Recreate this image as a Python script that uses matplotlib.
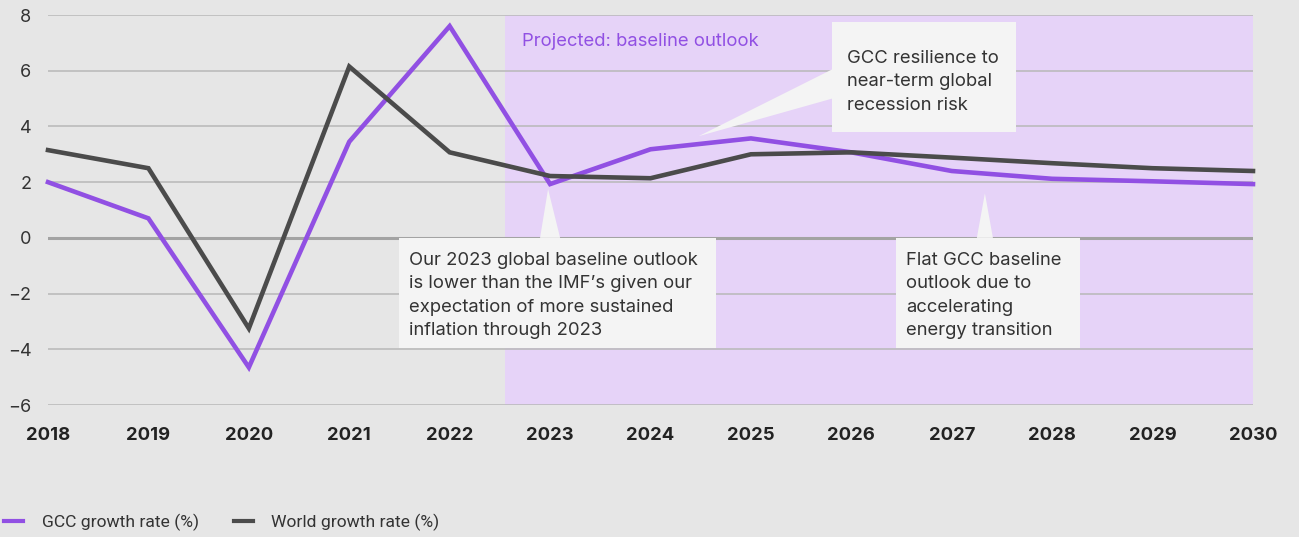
import matplotlib
matplotlib.use("Agg")
import matplotlib.pyplot as plt
from matplotlib.patches import Polygon, Rectangle
from matplotlib.lines import Line2D

years = [2018, 2019, 2020, 2021, 2022, 2023, 2024, 2025, 2026, 2027, 2028, 2029, 2030]
gcc_growth = [2.0, 0.7, -4.65, 3.45, 7.6, 1.93, 3.18, 3.57, 3.07, 2.4, 2.12, 2.03, 1.93]
world_growth = [3.15, 2.5, -3.25, 6.15, 3.07, 2.22, 2.14, 3.0, 3.07, 2.88, 2.68, 2.5, 2.4]
y_ticks = [-6, -4, -2, 0, 2, 4, 6, 8]
projection_start = 2022.55

PURPLE = "#9150e3"
DARK = "#4b4b4b"
BG = "#e6e6e6"
SHADE = "#e6d3f8"
BOX = "#f4f4f4"
TEXT = "#333333"

plt.rcParams["font.family"] = ["Inter", "DejaVu Sans"]

fig = plt.figure(figsize=(12.99, 5.37), dpi=100, facecolor=BG)
ax = fig.add_axes([48 / 1299, 1 - 405 / 537, 1205 / 1299, 390 / 537])
ax.set_facecolor(BG)
ax.set_xlim(2018, 2030)
ax.set_ylim(-6, 8)

ax.axvspan(projection_start, 2030, color=SHADE, zorder=0, lw=0)
for t in y_ticks:
    if t == 0:
        ax.axhline(t, color="#a3a3a3", lw=2.2, zorder=1)
    else:
        ax.axhline(t, color="#b8b8b8", lw=1.1, zorder=1)

for s in ax.spines.values():
    s.set_visible(False)
ax.set_yticks(y_ticks)
ax.set_yticklabels([str(t).replace("-", "\u2212") for t in y_ticks], fontsize=13, color=TEXT)
ax.set_xticks(years)
ax.set_xticklabels([str(y) for y in years], fontsize=13.3, fontweight="bold", color="#222222")
ax.tick_params(axis="both", length=0)
ax.tick_params(axis="y", pad=12)
ax.tick_params(axis="x", pad=15.5)

ax.text(2022.72, 7.05, "Projected: baseline outlook", color=PURPLE, fontsize=13.3, va="center", zorder=5)

# annotation boxes with pointers
def callout(x0, x1, y0, y1, pointer, tx, ty, lines):
    ax.add_patch(Rectangle((x0, y0), x1 - x0, y1 - y0, facecolor=BOX, edgecolor="none", zorder=3))
    ax.add_patch(Polygon(pointer, closed=True, facecolor=BOX, edgecolor="none", zorder=3))
    ax.text(tx, ty, "\n".join(lines), fontsize=13.3, color=TEXT, va="top",
            ha="left", linespacing=1.47, zorder=4)

callout(2021.495, 2024.652, -3.95, 0.0,
        [(2022.9, 0.0), (2023.1, 0.0), (2022.98, 1.75)],
        2021.594, -0.52,
        ["Our 2023 global baseline outlook", "is lower than the IMF\u2019s given our",
         "expectation of more sustained", "inflation through 2023"])
callout(2025.807, 2027.64, 3.8, 7.75,
        [(2025.81, 6.05), (2025.81, 5.0), (2024.48, 3.65)],
        2025.957, 6.73,
        ["GCC resilience to", "near-term global", "recession risk"])
callout(2026.44, 2028.277, -3.95, 0.0,
        [(2027.25, 0.0), (2027.41, 0.0), (2027.33, 1.6)],
        2026.544, -0.52,
        ["Flat GCC baseline", "outlook due to", "accelerating", "energy transition"])

ax.plot(years, gcc_growth, color=PURPLE, lw=3.3, zorder=6, clip_on=False, solid_joinstyle="miter")
ax.plot(years, world_growth, color=DARK, lw=3.3, zorder=6, clip_on=False, solid_joinstyle="miter")

handles = [Line2D([], [], color=PURPLE, lw=3), Line2D([], [], color=DARK, lw=3)]
fig.legend(handles, ["GCC growth rate (%)", "World growth rate (%)"], loc="center left",
           bbox_to_anchor=(4 / 1299, 1 - 522 / 537), ncol=2, frameon=False,
           prop={"family": ["Roboto", "DejaVu Sans"], "size": 12.6},
           handlelength=1.1, handletextpad=1.05, columnspacing=2.0, labelcolor=TEXT,
           borderaxespad=0, borderpad=0)

fig.savefig("out.png", dpi=100, facecolor=BG)
